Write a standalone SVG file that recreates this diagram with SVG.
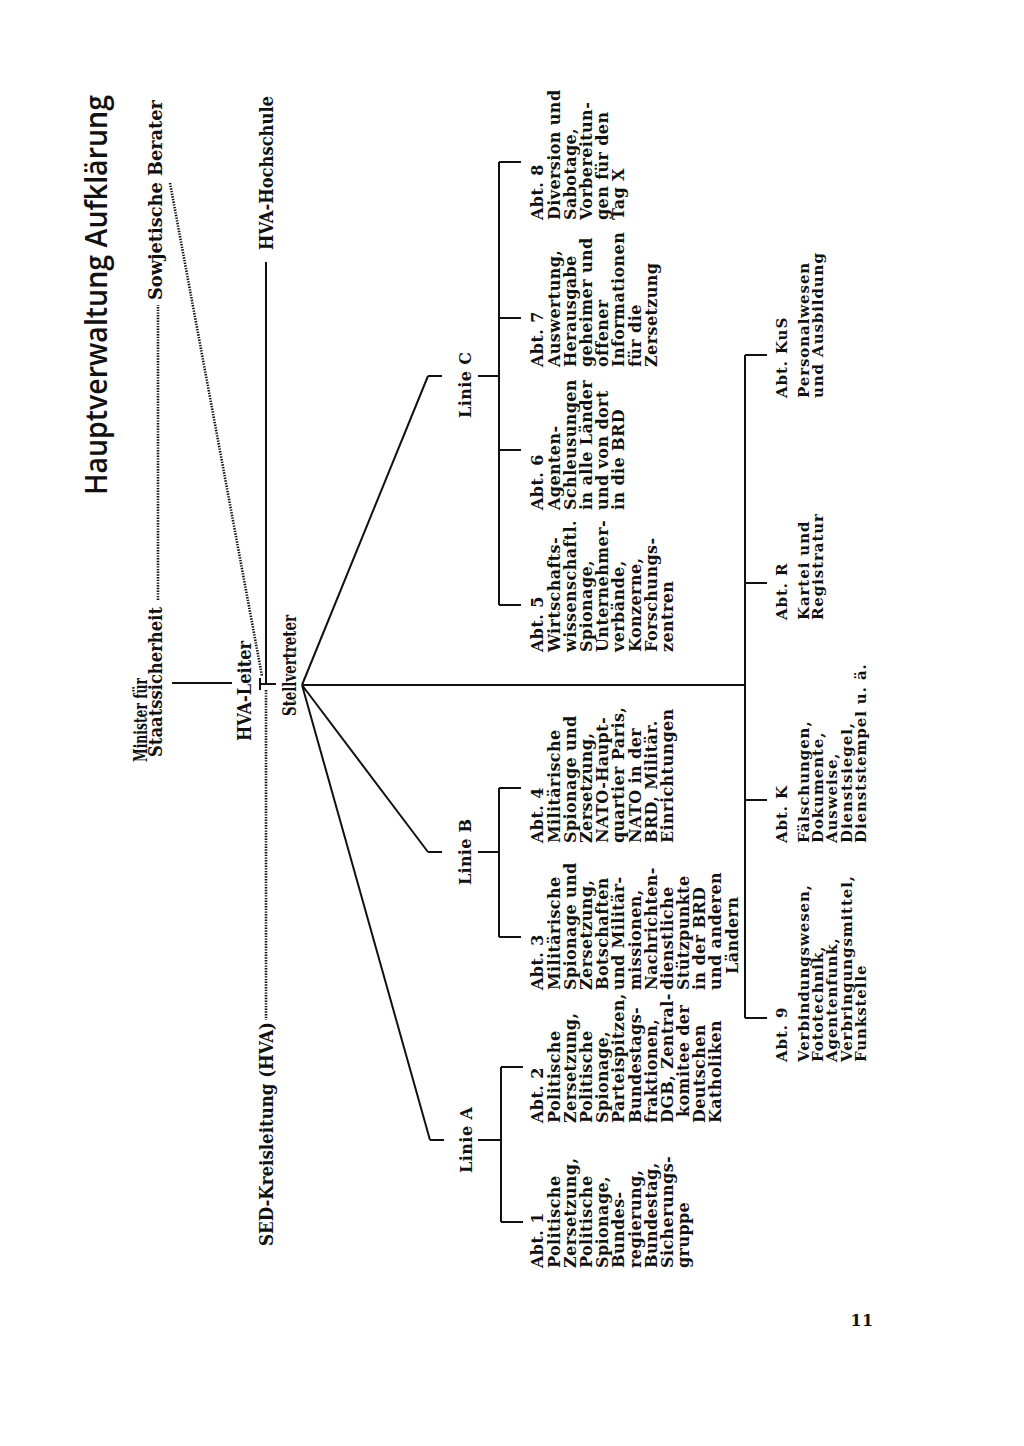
<svg xmlns="http://www.w3.org/2000/svg" width="1024" height="1446" viewBox="0 0 1024 1446">
<style>
.title{font-family:"Open Sans","DejaVu Sans",sans-serif;font-weight:600;font-size:30px;fill:#111}
.lab{font-family:"DejaVu Serif Condensed","DejaVu Serif",serif;font-weight:bold;font-size:18px;fill:#111}
.col{font-family:"DejaVu Serif",serif;font-weight:bold;font-size:16px;letter-spacing:0.4px;fill:#111}
.low{font-family:"DejaVu Serif",serif;font-weight:bold;font-size:15px;letter-spacing:0.9px;fill:#111}
.lin{font-family:"DejaVu Serif",serif;font-weight:bold;font-size:16px;fill:#111}
.ln{stroke:#111;stroke-width:2;fill:none}
.dot{stroke:#111;stroke-width:2.6;stroke-dasharray:1.4 1.3;fill:none}
</style>
<rect width="1024" height="1446" fill="#fff"/>
<g id="connectors">
<path class="dot" d="M158 600 V305"/>
<path class="dot" d="M170 183 L262 676"/>
<path class="dot" d="M266 690 V1020"/>
<path class="ln" d="M172 683 H232"/>
<path class="ln" d="M266 262 V684"/>
<path class="ln" d="M260 678 V690 M260 684 H276"/>
<path class="ln" d="M302 685 H745"/>
<path class="ln" d="M302 685 L428 376 M302 685 L428 852 M302 685 L430 1140"/>
<path class="ln" d="M428 376 H442 M478 376 H499 M428 852 H442 M478 852 H499 M430 1140 H444 M478 1140 H501"/>
<path class="ln" d="M499 162 V605 M499 162 H521 M499 318 H521 M499 450 H521 M499 605 H521"/>
<path class="ln" d="M499 788 V937 M499 788 H521 M499 937 H521"/>
<path class="ln" d="M501 1067 V1222 M501 1067 H523 M501 1222 H523"/>
<path class="ln" d="M745 355 V1018 M745 355 H767 M745 583 H767 M745 800 H767 M745 1018 H767"/>
</g>
<g id="title"><text class="title" transform="translate(107,495) rotate(-90)" textLength="400" lengthAdjust="spacingAndGlyphs">Hauptverwaltung Aufklärung</text></g>
<g id="sowjetische-berater"><text class="lab" transform="translate(162,300) rotate(-90)" textLength="200" lengthAdjust="spacingAndGlyphs">Sowjetische Berater</text></g>
<g id="hva-hochschule"><text class="lab" transform="translate(273,250) rotate(-90)" textLength="154" lengthAdjust="spacingAndGlyphs">HVA-Hochschule</text></g>
<g id="minister">
<text class="lab" font-size="17" transform="translate(147,762) rotate(-90)" textLength="84" lengthAdjust="spacingAndGlyphs">Minister für</text>
<text class="lab" transform="translate(162,757) rotate(-90)" textLength="150" lengthAdjust="spacingAndGlyphs">Staatssicherheit</text>
</g>
<g id="hva-leiter"><text class="lab" transform="translate(251,741) rotate(-90)" textLength="100" lengthAdjust="spacingAndGlyphs">HVA-Leiter</text></g>
<g id="stellvertreter"><text class="lab" transform="translate(296,716) rotate(-90)" textLength="101" lengthAdjust="spacingAndGlyphs">Stellvertreter</text></g>
<g id="sed-kreisleitung"><text class="lab" transform="translate(273,1246) rotate(-90)" textLength="224" lengthAdjust="spacingAndGlyphs">SED-Kreisleitung (HVA)</text></g>
<g id="linie-c"><text class="lin" text-anchor="middle" transform="translate(471,385) rotate(-90)" textLength="66">Linie C</text></g>
<g id="linie-b"><text class="lin" text-anchor="middle" transform="translate(471,852) rotate(-90)" textLength="66">Linie B</text></g>
<g id="linie-a"><text class="lin" text-anchor="middle" transform="translate(472,1140) rotate(-90)" textLength="66">Linie A</text></g>
<g id="abt1"><text class="col" transform="translate(543,1268) rotate(-90)"><tspan x="0" y="0">Abt. 1</tspan><tspan x="0" dy="16.5">Politische</tspan><tspan x="0" dy="16.2">Zersetzung,</tspan><tspan x="0" dy="16.2">Politische</tspan><tspan x="0" dy="16.2">Spionage,</tspan><tspan x="0" dy="16.2">Bundes-</tspan><tspan x="0" dy="16.2">regierung,</tspan><tspan x="0" dy="16.2">Bundestag,</tspan><tspan x="0" dy="16.2">Sicherungs-</tspan><tspan x="0" dy="16.2">gruppe</tspan></text></g>
<g id="abt2"><text class="col" transform="translate(543,1123) rotate(-90)"><tspan x="0" y="0">Abt. 2</tspan><tspan x="0" dy="16.5">Politische</tspan><tspan x="0" dy="16.2">Zersetzung,</tspan><tspan x="0" dy="16.2">Politische</tspan><tspan x="0" dy="16.2">Spionage,</tspan><tspan x="0" dy="16.2">Parteispitzen,</tspan><tspan x="0" dy="16.2">Bundestags-</tspan><tspan x="0" dy="16.2">fraktionen,</tspan><tspan x="0" dy="16.2">DGB, Zentral-</tspan><tspan x="6" dy="16.2">komitee der</tspan><tspan x="0" dy="16.2">Deutschen</tspan><tspan x="0" dy="16.2">Katholiken</tspan></text></g>
<g id="abt3"><text class="col" transform="translate(543,990) rotate(-90)"><tspan x="0" y="0">Abt. 3</tspan><tspan x="0" dy="16.5">Militärische</tspan><tspan x="0" dy="16.2">Spionage und</tspan><tspan x="0" dy="16.2">Zersetzung,</tspan><tspan x="0" dy="16.2">Botschaften</tspan><tspan x="0" dy="16.2">und Militär-</tspan><tspan x="0" dy="16.2">missionen,</tspan><tspan x="0" dy="16.2">Nachrichten-</tspan><tspan x="0" dy="16.2">dienstliche</tspan><tspan x="0" dy="16.2">Stützpunkte</tspan><tspan x="0" dy="16.2">in der BRD</tspan><tspan x="0" dy="16.2">und anderen</tspan><tspan x="16" dy="16.2">Ländern</tspan></text></g>
<g id="abt4"><text class="col" transform="translate(543,843) rotate(-90)"><tspan x="0" y="0">Abt. 4</tspan><tspan x="0" dy="16.5">Militärische</tspan><tspan x="0" dy="16.2">Spionage und</tspan><tspan x="0" dy="16.2">Zersetzung,</tspan><tspan x="0" dy="16.2">NATO-Haupt-</tspan><tspan x="0" dy="16.2">quartier Paris,</tspan><tspan x="0" dy="16.2">NATO in der</tspan><tspan x="0" dy="16.2">BRD, Militär.</tspan><tspan x="0" dy="16.2">Einrichtungen</tspan></text></g>
<g id="abt5"><text class="col" transform="translate(543,652) rotate(-90)"><tspan x="0" y="0">Abt. 5</tspan><tspan x="0" dy="16.5">Wirtschafts-</tspan><tspan x="0" dy="16.2">wissenschaftl.</tspan><tspan x="0" dy="16.2">Spionage,</tspan><tspan x="0" dy="16.2">Unternehmer-</tspan><tspan x="0" dy="16.2">verbände,</tspan><tspan x="0" dy="16.2">Konzerne,</tspan><tspan x="0" dy="16.2">Forschungs-</tspan><tspan x="0" dy="16.2">zentren</tspan></text></g>
<g id="abt6"><text class="col" transform="translate(543,510) rotate(-90)"><tspan x="0" y="0">Abt. 6</tspan><tspan x="0" dy="16.5">Agenten-</tspan><tspan x="0" dy="16.2">Schleusungen</tspan><tspan x="0" dy="16.2">in alle Länder</tspan><tspan x="0" dy="16.2">und von dort</tspan><tspan x="0" dy="16.2">in die BRD</tspan></text></g>
<g id="abt7"><text class="col" transform="translate(543,367) rotate(-90)"><tspan x="0" y="0">Abt. 7</tspan><tspan x="0" dy="16.5">Auswertung,</tspan><tspan x="0" dy="16.2">Herausgabe</tspan><tspan x="0" dy="16.2">geheimer und</tspan><tspan x="0" dy="16.2">offener</tspan><tspan x="0" dy="16.2">Informationen</tspan><tspan x="0" dy="16.2">für die</tspan><tspan x="0" dy="16.2">Zersetzung</tspan></text></g>
<g id="abt8"><text class="col" transform="translate(543,220) rotate(-90)"><tspan x="0" y="0">Abt. 8</tspan><tspan x="0" dy="16.5">Diversion und</tspan><tspan x="0" dy="16.2">Sabotage,</tspan><tspan x="0" dy="16.2">Vorbereitun-</tspan><tspan x="0" dy="16.2">gen für den</tspan><tspan x="0" dy="16.2">Tag X</tspan></text></g>
<g id="abt9"><text class="low" transform="translate(787,1062) rotate(-90)"><tspan x="0" y="0">Abt. 9</tspan><tspan x="0" dy="22">Verbindungswesen,</tspan><tspan x="0" dy="14.2">Fototechnik,</tspan><tspan x="0" dy="14.2">Agentenfunk,</tspan><tspan x="0" dy="14.2">Verbringungsmittel,</tspan><tspan x="0" dy="14.2">Funkstelle</tspan></text></g>
<g id="abtK"><text class="low" transform="translate(787,843) rotate(-90)"><tspan x="0" y="0">Abt. K</tspan><tspan x="0" dy="22">Fälschungen,</tspan><tspan x="0" dy="14.2">Dokumente,</tspan><tspan x="0" dy="14.2">Ausweise,</tspan><tspan x="0" dy="14.2">Dienstsiegel,</tspan><tspan x="0" dy="14.2">Dienststempel u. ä.</tspan></text></g>
<g id="abtR"><text class="low" transform="translate(787,620) rotate(-90)"><tspan x="0" y="0">Abt. R</tspan><tspan x="0" dy="22">Kartei und</tspan><tspan x="0" dy="14.2">Registratur</tspan></text></g>
<g id="abtKuS"><text class="low" transform="translate(787,398) rotate(-90)"><tspan x="0" y="0">Abt. KuS</tspan><tspan x="0" dy="22">Personalwesen</tspan><tspan x="0" dy="14.2">und Ausbildung</tspan></text></g>
<g id="page-number"><text class="col" x="862" y="1326" text-anchor="middle" font-size="20">11</text></g>
</svg>
